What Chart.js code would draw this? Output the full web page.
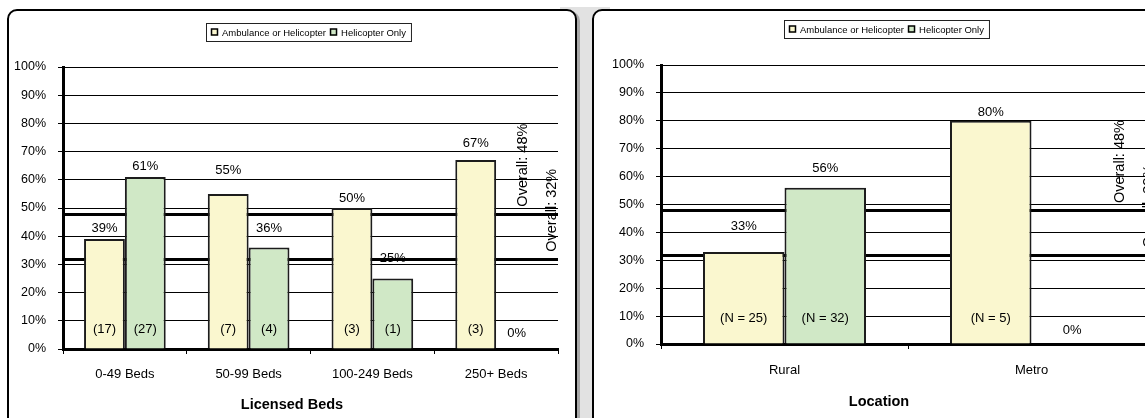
<!DOCTYPE html>
<html>
<head>
<meta charset="utf-8">
<script src="https://cdn.jsdelivr.net/npm/chart.js@4.4.1/dist/chart.umd.min.js"></script>
<style>
  html, body { margin: 0; padding: 0; background: #fff; overflow: hidden; width: 1145px; height: 418px; position: relative; }
  .gap { position: absolute; left: 560px; top: 7px; width: 50px; height: 420px; background: #e2e2e2; }
  .panel { position: absolute; top: 9px; height: 430px; background: #fff; border: 2px solid #000; border-radius: 10px; box-shadow: 3px 2px 0 #a8a8a8; }
  #p1 { left: 7px; width: 566px; }
  #p2 { left: 592px; width: 570px; }
  canvas { position: absolute; left: 0; top: 0; }
</style>
</head>
<body>
<div class="gap"></div>
<div class="panel" id="p1"><canvas id="bedsChart" width="566" height="420"></canvas></div>
<div class="panel" id="p2"><canvas id="locChart" width="570" height="420"></canvas></div>

<script>
// series shared by both charts
const seriesNames = ['Ambulance or Helicopter', 'Helicopter Only'];
const seriesFill = ['rgb(250,247,207)', 'rgb(208,232,198)'];

// licensed beds
const bedCategories = ['0-49 Beds', '50-99 Beds', '100-249 Beds', '250+ Beds'];
const bedAmbulance = [39, 55, 50, 67];
const bedHelicopter = [61, 36, 25, 0];
const bedAmbulanceN = [17, 7, 3, 3];
const bedHelicopterN = [27, 4, 1, null];
const bedOverall = [48, 32];

// location
const locCategories = ['Rural', 'Metro'];
const locAmbulance = [33, 80];
const locHelicopter = [56, 0];
const locAmbulanceN = [25, 5];
const locHelicopterN = [32, null];
const locOverall = [48, 32];

const FONT = '"Liberation Sans", Arial, Helvetica, sans-serif';

const panelText = {
  id: 'panelText',
  beforeDatasetsDraw(chart, args, o) {
    const { ctx, chartArea: a, scales: { y } } = chart;
    ctx.save();
    ctx.strokeStyle = '#000';
    ctx.lineWidth = 3;
    o.overall.forEach(v => {
      const py = Math.round(y.getPixelForValue(v)) + 0.5;
      ctx.beginPath();
      ctx.moveTo(a.left, py);
      ctx.lineTo(a.right, py);
      ctx.stroke();
    });
    ctx.restore();
  },
  afterDatasetsDraw(chart, args, o) {
    const { ctx, chartArea: a, scales: { y } } = chart;
    const base = y.getPixelForValue(0);
    ctx.save();
    ctx.fillStyle = '#000';
    ctx.textAlign = 'center';
    ctx.textBaseline = 'middle';
    ctx.font = '13px ' + FONT;
    chart.data.datasets.forEach((ds, i) => {
      chart.getDatasetMeta(i).data.forEach((bar, j) => {
        ctx.fillText(ds.data[j] + '%', bar.x, bar.y - o.lift[i][j]);
        const n = o.counts[i][j];
        if (n != null) ctx.fillText(o.nText(n), bar.x, base - o.nLift);
      });
    });

    // vertical "Overall" notes, cut at the right edge of the plot
    ctx.beginPath();
    ctx.rect(a.left, 0, a.right - a.left, chart.height);
    ctx.clip();
    ctx.font = '14.5px ' + FONT;
    ctx.textAlign = 'left';
    o.overall.forEach((v, k) => {
      ctx.save();
      ctx.translate(a.right - o.overallX[k], y.getPixelForValue(v) - 7);
      ctx.rotate(-Math.PI / 2);
      ctx.fillText('Overall: ' + v + '%', 0, 0);
      ctx.restore();
    });
    ctx.restore();
  },
  afterDraw(chart, args, o) {
    const ctx = chart.ctx;
    ctx.save();

    // boxed legend
    ctx.font = '9.5px ' + FONT;
    const pad = 5, mark = 7, gap = 4, h = 18;
    const widths = seriesNames.map(s => ctx.measureText(s).width);
    let total = pad * 2 + gap * (seriesNames.length - 1);
    widths.forEach(w => { total += mark + 4 + w; });
    let x = Math.round(o.legend.cx - total / 2);
    const top = o.legend.top;
    ctx.fillStyle = '#fff';
    ctx.fillRect(x, top, total, h);
    ctx.strokeStyle = '#222';
    ctx.lineWidth = 1;
    ctx.strokeRect(x + 0.5, top + 0.5, total, h);
    x += pad;
    ctx.textBaseline = 'middle';
    ctx.textAlign = 'left';
    seriesNames.forEach((s, i) => {
      const my = top + h / 2 - mark / 2 + 0.5;
      ctx.fillStyle = seriesFill[i];
      ctx.fillRect(x, my, mark, mark);
      ctx.strokeStyle = '#000';
      ctx.lineWidth = 1.5;
      ctx.strokeRect(x + 0.5, my, mark - 1, mark - 1);
      ctx.fillStyle = '#000';
      ctx.fillText(s, x + mark + 4, top + h / 2 + 1);
      x += mark + 4 + widths[i] + gap;
    });

    // axis title under the category labels
    ctx.font = 'bold 14.5px ' + FONT;
    ctx.textAlign = 'center';
    ctx.fillText(o.title, chart.width / 2, o.titleY);
    ctx.restore();
  }
};

function makeChart(id, p) {
  const W = document.getElementById(id).width;
  const H = document.getElementById(id).height;
  return new Chart(document.getElementById(id), {
    type: 'bar',
    data: {
      labels: p.labels,
      datasets: p.series.map((d, i) => ({
        label: seriesNames[i],
        data: d,
        backgroundColor: seriesFill[i],
        borderColor: '#1c1c1c',
        borderWidth: 2,
        barPercentage: 1,
        categoryPercentage: 0.66
      }))
    },
    options: {
      responsive: false,
      animation: false,
      devicePixelRatio: 1,
      layout: {
        padding: { left: 0, top: p.area.top, right: W - p.area.right, bottom: H - p.area.bottom - 40 }
      },
      scales: {
        x: {
          grid: { display: true, offset: true, drawOnChartArea: false, drawTicks: true, tickLength: 5, color: '#000', lineWidth: 1 },
          border: { display: true, color: '#000', width: 3 },
          ticks: { color: '#000', font: { family: FONT, size: 13 }, padding: p.labelPad, autoSkip: false, maxRotation: 0 },
          afterFit(scale) { scale.height = 40; }
        },
        y: {
          min: 0,
          max: 100,
          grid: { color: '#000', lineWidth: 1, tickLength: 5, drawTicks: true },
          border: { display: true, color: '#000', width: 3 },
          ticks: { stepSize: 10, color: '#000', padding: 12, font: { family: FONT, size: 12.5 }, callback: v => v + '%' },
          afterFit(scale) { scale.width = p.area.left; }
        }
      },
      plugins: {
        legend: { display: false },
        tooltip: { enabled: false },
        panelText: {
          overall: p.overall,
          overallX: [35, 6],
          counts: p.counts,
          nText: p.nText,
          nLift: p.nLift,
          lift: p.lift,
          legend: p.legend,
          title: p.title,
          titleY: p.titleY
        }
      }
    },
    plugins: [panelText]
  });
}

makeChart('bedsChart', {
  labels: bedCategories,
  series: [bedAmbulance, bedHelicopter],
  counts: [bedAmbulanceN, bedHelicopterN],
  overall: bedOverall,
  nText: n => '(' + n + ')',
  nLift: 20,
  lift: [[11, 23, 10, 17], [11, 19, 20, 16]],
  area: { left: 54, right: 549, top: 56, bottom: 338 },
  labelPad: 13,
  legend: { cx: 299.5, top: 12 },
  title: 'Licensed Beds',
  titleY: 394
});

makeChart('locChart', {
  labels: locCategories,
  series: [locAmbulance, locHelicopter],
  counts: [locAmbulanceN, locHelicopterN],
  overall: locOverall,
  nText: n => '(N = ' + n + ')',
  nLift: 26,
  lift: [[26, 8], [19, 14]],
  area: { left: 67, right: 561, top: 54, bottom: 333 },
  labelPad: 14,
  legend: { cx: 292.5, top: 9 },
  title: 'Location',
  titleY: 391
});
</script>
</body>
</html>
